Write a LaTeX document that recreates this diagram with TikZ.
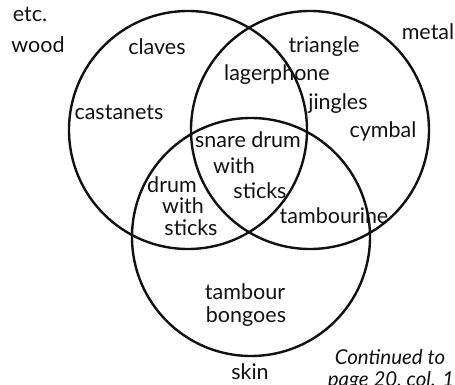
\documentclass[tikz,border=0pt]{standalone}
\usepackage{fontspec}
\setmainfont{Lato}
\definecolor{VennInk}{HTML}{111111}

\begin{document}
\begin{tikzpicture}[x=1pt,y=-1pt,
    setring/.style={draw=VennInk,circle,line width=2.4pt,minimum size=238pt,inner sep=0pt},
    setword/.style={anchor=base,inner sep=0pt,text=VennInk,font=\fontsize{21.5}{23}\selectfont}]
    \useasboundingbox (0,0) rectangle (455,385);
    \foreach \name/\x/\y in {woodring/188/130,metalring/310/130,skinring/251/237}{
      \node[setring] (\name) at (\x,\y) {};
    }
    \foreach \name/\x/\y/\label in {etc/30/22/etc.,wood/38/53/wood,metal/428/40/metal,skin/250/379/skin,
        claves/157/55/claves,castanets/119/120/castanets,triangle/324/53/triangle,
        lagerphone/277/81/lagerphone,jingles/338/110/jingles,cymbal/383/138/cymbal,
        snare/248/148/snare drum,snarewith/234/173/with,snaresticks/260/198/sticks,
        drum/172/192/drum,drumwith/183/213/with,drumsticks/191/235/sticks,
        tambourine/334/223/tambourine,tambour/245/299/tambour,bongoes/246/322/bongoes}{
      \node[setword] (\name) at (\x,\y) {\label};
    }
    \node[setword,font=\fontsize{20.5}{22}\selectfont\itshape] (contd) at (390,364) {Continued to};
    \node[setword,font=\fontsize{20.5}{22}\selectfont\itshape] (contdpage) at (391,386) {page 20, col. 1};
  \end{tikzpicture}
\end{document}
